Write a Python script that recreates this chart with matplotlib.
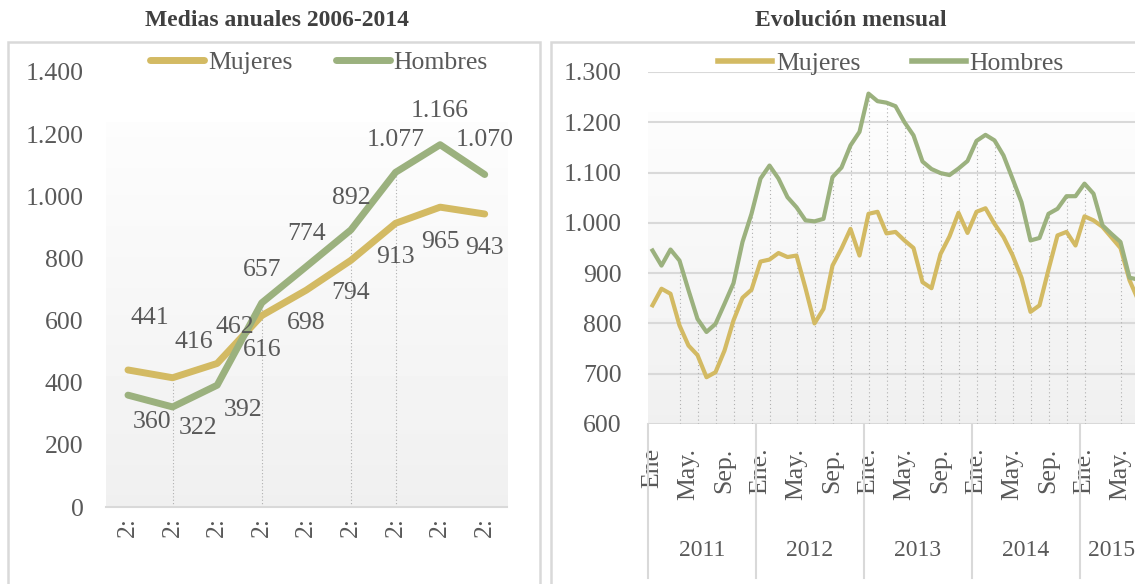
import matplotlib.pyplot as plt
import numpy as np
from matplotlib.patches import Rectangle
from matplotlib.ticker import FuncFormatter

# --- data -------------------------------------------------------------
anios = ['2006', '2007', '2008', '2009', '2010', '2011', '2012', '2013', '2014']
etiquetas_anios = ['2:'] * 9
mujeres_anual = [441, 416, 462, 616, 698, 794, 913, 965, 943]
hombres_anual = [360, 322, 392, 657, 774, 892, 1077, 1166, 1070]

# monthly, Ene 2011 .. Jul 2015
mujeres_mes = [836, 869, 859, 796, 756, 737, 693, 703, 746, 806, 851, 867,
               923, 927, 940, 932, 935, 870, 800, 829, 915, 949, 988, 935,
               1018, 1022, 979, 982, 965, 950, 882, 870, 938, 973, 1020, 980,
               1022, 1029, 998, 972, 936, 891, 823, 836, 907, 975, 982, 955,
               1013, 1005, 992, 971, 950, 886, 845]
hombres_mes = [945, 915, 947, 925, 866, 809, 783, 799, 839, 880, 962, 1018,
               1088, 1114, 1088, 1051, 1031, 1005, 1003, 1008, 1091, 1110, 1154, 1181,
               1257, 1242, 1239, 1232, 1200, 1174, 1122, 1107, 1099, 1095, 1108, 1123,
               1163, 1175, 1164, 1134, 1088, 1041, 965, 970, 1018, 1028, 1053, 1053,
               1078, 1058, 995, 978, 962, 891, 887]
meses_tick = ['Ene', 'May.', 'Sep.', 'Ene.', 'May.', 'Sep.', 'Ene.', 'May.', 'Sep.',
              'Ene.', 'May.', 'Sep.', 'Ene.', 'May.']
anios_mes = ['2011', '2012', '2013', '2014', '2015']
meses_por_anio = [12, 12, 12, 12, 7]

# --- style ------------------------------------------------------------
W, H = 1135, 584
C_MUJ = '#D3BA63'
C_HOM = '#9BB17E'
C_TXT = '#595959'
C_GRID = '#d9d9d9'
FS = 18.5
plt.rcParams['font.family'] = ['Liberation Serif', 'DejaVu Serif']
plt.rcParams['text.color'] = C_TXT
plt.rcParams['xtick.color'] = C_TXT
plt.rcParams['ytick.color'] = C_TXT

fig = plt.figure(figsize=(W / 100, H / 100), dpi=100)


def px_axes(x0, y0, x1, y1):
    return fig.add_axes([x0 / W, 1 - y1 / H, (x1 - x0) / W, (y1 - y0) / H])


def miles(v, pos):
    return f'{v:,.0f}'.replace(',', '.')


def gradient(ax, top):
    g = np.linspace(0.94, 0.99, 100).reshape(-1, 1)
    ax.imshow(g, cmap='gray', vmin=0, vmax=1, aspect='auto', origin='lower',
              extent=[0, 1, 0, top], transform=ax.transAxes, zorder=0)


# frames
fig.add_artist(Rectangle((8 / W, -0.05), 532 / W, 1 - 42 / H + 0.05,
                         transform=fig.transFigure, fill=False, ec=C_GRID, lw=1.8))
fig.add_artist(Rectangle((551 / W, -0.05), 600 / W, 1 - 42 / H + 0.05,
                         transform=fig.transFigure, fill=False, ec=C_GRID, lw=1.8))

fig.text(277 / W, 1 - 20 / H, 'Medias anuales 2006-2014', ha='center', va='center',
         fontsize=17, fontweight='bold', color='#404040')
fig.text(851 / W, 1 - 20 / H, 'Evolución mensual', ha='center', va='center',
         fontsize=17, fontweight='bold', color='#404040')

# --- left chart -------------------------------------------------------
ax1 = px_axes(105.7, 72, 507, 507)
x = np.arange(len(anios))
gradient(ax1, 0.885)
ax1.plot(x, mujeres_anual, color=C_MUJ, lw=5, solid_capstyle='round',
         solid_joinstyle='round', label='Mujeres', zorder=3)
ax1.plot(x, hombres_anual, color=C_HOM, lw=5, solid_capstyle='round',
         solid_joinstyle='round', label='Hombres', zorder=3)
for i in [1, 3, 5, 6]:
    ax1.vlines(i, 0, max(mujeres_anual[i], hombres_anual[i]), color='#b0b0b0',
               lw=0.8, linestyles=(0, (1, 2)), zorder=1)

off_muj = [(22, 52), (21, 36), (18, 36), (0, -34), (0, -33), (0, -33), (0, -34), (0, -35), (0, -34)]
off_hom = [(24, -27), (25, -21), (26, -25), (0, 33), (0, 33), (0, 32), (0, 32), (0, 34), (0, 35)]
for i in range(len(anios)):
    ax1.annotate(miles(mujeres_anual[i], None), (x[i], mujeres_anual[i]), xytext=off_muj[i],
                 textcoords='offset pixels', ha='center', va='center', fontsize=FS, color=C_TXT)
    ax1.annotate(miles(hombres_anual[i], None), (x[i], hombres_anual[i]), xytext=off_hom[i],
                 textcoords='offset pixels', ha='center', va='center', fontsize=FS, color=C_TXT)

ax1.set_xlim(-0.5, len(anios) - 0.5)
ax1.set_ylim(0, 1400)
ax1.set_yticks(range(0, 1401, 200))
ax1.yaxis.set_major_formatter(FuncFormatter(miles))
ax1.set_xticks(x)
ax1.set_xticklabels(etiquetas_anios, rotation=90, va='top')
ax1.tick_params(axis='y', length=0, pad=16, labelsize=FS)
ax1.tick_params(axis='x', length=0, pad=7, labelsize=FS)
for s in ['top', 'right', 'left']:
    ax1.spines[s].set_visible(False)
ax1.spines['bottom'].set_color(C_GRID)
ax1.spines['bottom'].set_linewidth(1.5)
leg1 = ax1.legend(ncol=2, loc='center', bbox_to_anchor=(319 / W, 1 - 63 / H),
                  bbox_transform=fig.transFigure, frameon=False, fontsize=FS,
                  handlelength=2.1, handletextpad=0.15, columnspacing=1.7,
                  borderpad=0, borderaxespad=0)
for t in leg1.get_texts():
    t.set_color(C_TXT)

# --- right chart ------------------------------------------------------
ax2 = px_axes(648, 72, 1143, 424)
m = np.arange(len(mujeres_mes))
gradient(ax2, 0.886)
ax2.plot(m, mujeres_mes, color=C_MUJ, lw=3, solid_joinstyle='round', label='Mujeres', zorder=3)
ax2.plot(m, hombres_mes, color=C_HOM, lw=3, solid_joinstyle='round', label='Hombres', zorder=3)
for i in [3, 5, 7, 9, 11, 13, 16, 18, 20, 22, 24, 26, 28, 30, 32, 34, 36, 38,
          40, 42, 44, 46, 48, 52]:
    ax2.vlines(i, 600, hombres_mes[i], color='#b0b0b0', lw=0.8,
               linestyles=(0, (1, 2.5)), zorder=1)

ax2.set_xlim(-0.5, len(m) - 0.5)
ax2.set_ylim(600, 1300)
ax2.set_yticks(range(600, 1301, 100))
ax2.yaxis.set_major_formatter(FuncFormatter(miles))
ax2.yaxis.grid(True, color=C_GRID, lw=1.5)
ax2.set_axisbelow(True)
ax2.set_xticks(np.arange(0, len(m), 4))
ax2.set_xticklabels(meses_tick, rotation=90, va='top')
ax2.tick_params(axis='y', length=0, pad=19, labelsize=FS)
ax2.tick_params(axis='x', length=0, pad=17, labelsize=FS)
for s in ax2.spines.values():
    s.set_visible(False)

# year groups under the month labels
bordes = np.concatenate([[0], np.cumsum(meses_por_anio)]) - 0.5
ytr = ax2.get_xaxis_transform()
for b in bordes:
    ax2.plot([b, b], [0, -0.4375], color=C_GRID, lw=1.5, transform=ytr, clip_on=False)
for a, b0, b1 in zip(anios_mes, bordes[:-1], bordes[1:]):
    ax2.text((b0 + b1) / 2, -0.358, a, transform=ytr, ha='center', va='center',
             fontsize=17, color=C_TXT)

leg2 = ax2.legend(ncol=2, loc='center', bbox_to_anchor=(891 / W, 1 - 64 / H),
                  bbox_transform=fig.transFigure, frameon=False, fontsize=FS,
                  handlelength=2.1, handletextpad=0.15, columnspacing=2.0,
                  borderpad=0, borderaxespad=0)
for t in leg2.get_texts():
    t.set_color(C_TXT)
for h in leg2.get_lines():
    h.set_linewidth(4)

fig.savefig('out.png', dpi=100)
